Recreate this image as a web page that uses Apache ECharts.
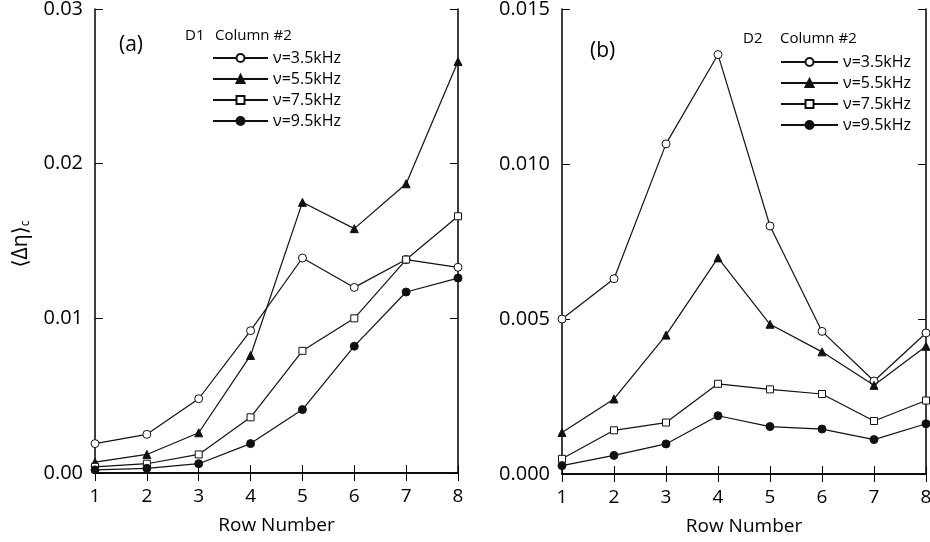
<!DOCTYPE html>
<html>
<head>
<meta charset="utf-8">
<script src="https://cdn.jsdelivr.net/npm/echarts@6/dist/echarts.min.js"></script>
<style>
  html, body { margin: 0; padding: 0; background: #fff; }
  #chart { width: 930px; height: 542px; }
</style>
</head>
<body>
<div id="chart"></div>
<script>
// Row numbers along the column
const rows = [1, 2, 3, 4, 5, 6, 7, 8];

// Series names (frequency)
const names = ['ν=3.5kHz', 'ν=5.5kHz', 'ν=7.5kHz', 'ν=9.5kHz'];

// Panel (a): D1, Column #2
const a35 = [0.0019, 0.0025, 0.0048, 0.0092, 0.0139, 0.0120, 0.0138, 0.0133];
const a55 = [0.0007, 0.0012, 0.0026, 0.0076, 0.0175, 0.0158, 0.0187, 0.0266];
const a75 = [0.0004, 0.0006, 0.0012, 0.0036, 0.0079, 0.0100, 0.0138, 0.0166];
const a95 = [0.0002, 0.0003, 0.0006, 0.0019, 0.0041, 0.0082, 0.0117, 0.0126];

// Panel (b): D2, Column #2
const b35 = [0.0050, 0.0063, 0.01065, 0.01353, 0.0080, 0.0046, 0.0030, 0.00455];
const b55 = [0.00134, 0.00242, 0.00448, 0.00697, 0.00483, 0.00394, 0.00286, 0.00412];
const b75 = [0.00049, 0.00141, 0.00166, 0.00291, 0.00273, 0.00258, 0.00171, 0.00237];
const b95 = [0.00027, 0.0006, 0.00097, 0.00188, 0.00153, 0.00145, 0.00111, 0.00162];

const FONT = '"Open Sans", "DejaVu Sans", sans-serif';
const INK = '#111';

// marker styles: open circle, filled triangle, open square, filled circle
const markers = [
  { symbol: 'circle',   size: 8, fill: '#fff' },
  { symbol: 'triangle', size: 8, fill: INK },
  { symbol: 'rect',     size: 7, fill: '#fff' },
  { symbol: 'circle',   size: 8, fill: INK }
];

// ticks drawn toward the plot interior
const innerTick = { show: true, inside: false, length: -8, lineStyle: { color: '#000', width: 1 } };

function pairs(vals) { return rows.map((r, i) => [r, vals[i]]); }

function makeSeries(valsList, gridIdx) {
  return valsList.map((vals, k) => ({
    name: names[k],
    type: 'line',
    xAxisIndex: gridIdx * 2,
    yAxisIndex: gridIdx * 2,
    data: pairs(vals),
    symbol: markers[k].symbol,
    symbolSize: markers[k].size,
    showAllSymbol: true,
    clip: false,
    lineStyle: { color: INK, width: 1.2 },
    itemStyle: { color: markers[k].fill, borderColor: INK, borderWidth: 1 },
    emphasis: { disabled: true },
    z: 3 + k
  }));
}

function xAxes(gridIdx) {
  return [
    {
      type: 'value', gridIndex: gridIdx, position: 'bottom',
      min: 1, max: 8, interval: 1,
      name: 'Row Number', nameLocation: 'middle', nameGap: 43,
      nameTextStyle: { fontFamily: FONT, fontSize: 19, color: '#000' },
      axisLine: { lineStyle: { color: '#000', width: 1.5 } },
      axisTick: innerTick,
      axisLabel: { fontFamily: FONT, fontSize: 19, color: '#000', margin: 14 },
      splitLine: { show: false }
    },
    {
      type: 'value', gridIndex: gridIdx, position: 'top',
      min: 1, max: 8, interval: 1,
      axisLine: { lineStyle: { color: '#000', width: 1.5 } },
      axisTick: innerTick,
      axisLabel: { show: false },
      splitLine: { show: false }
    }
  ];
}

function yAxes(gridIdx, max, interval, digits) {
  return [
    {
      type: 'value', gridIndex: gridIdx, position: 'left',
      min: 0, max: max, interval: interval,
      axisLine: { show: true, lineStyle: { color: '#000', width: 1.5 } },
      axisTick: innerTick,
      axisLabel: {
        fontFamily: FONT, fontSize: 20, color: '#000', margin: 12,
        formatter: v => v.toFixed(digits)
      },
      splitLine: { show: false }
    },
    {
      type: 'value', gridIndex: gridIdx, position: 'right',
      min: 0, max: max, interval: interval,
      axisLine: { show: true, lineStyle: { color: '#000', width: 1.5 } },
      axisTick: innerTick,
      axisLabel: { show: false },
      splitLine: { show: false }
    }
  ];
}

function legendAt(left, top, width, gap) {
  return {
    data: names,
    orient: 'vertical',
    left: left, top: top,
    padding: 0,
    itemWidth: width, itemHeight: 10, itemGap: gap,
    selectedMode: false,
    textStyle: { fontFamily: FONT, fontSize: 16, color: '#000', lineHeight: 16 }
  };
}

function label(text, x, y, size) {
  return {
    type: 'text', left: x, top: y,
    style: { text: text, font: size + 'px ' + FONT, fill: '#000' }
  };
}

const option = {
  backgroundColor: '#fff',
  animation: false,
  grid: [
    { left: 95, right: 472, top: 9, bottom: 69, outerBoundsMode: 'none' },
    { left: 562, right: 4, top: 9, bottom: 68, outerBoundsMode: 'none' }
  ],
  xAxis: [...xAxes(0), ...xAxes(1)],
  yAxis: [...yAxes(0, 0.03, 0.01, 2), ...yAxes(1, 0.015, 0.005, 3)],
  legend: [legendAt(212, 50, 55, 5), legendAt(780, 54, 57, 5)],
  graphic: [
    // y-axis quantity of panel (a), read bottom to top
    {
      type: 'text', x: 20, y: 244, rotation: Math.PI / 2,
      style: {
        text: '{m|⟨Δη⟩}{s|c}',
        align: 'center', verticalAlign: 'middle',
        rich: {
          m: { fontFamily: FONT, fontSize: 21, fill: '#000', verticalAlign: 'bottom', lineHeight: 24 },
          s: { fontFamily: FONT, fontSize: 12, fill: '#000', verticalAlign: 'bottom', lineHeight: 18 }
        }
      }
    },
    label('(a)', 119, 35, 21),
    label('D1', 185, 28, 15),
    label('Column #2', 215, 28, 15),
    label('(b)', 590, 41, 21),
    label('D2', 743, 31, 15),
    label('Column #2', 780, 31, 15)
  ],
  series: [
    ...makeSeries([a35, a55, a75, a95], 0),
    ...makeSeries([b35, b55, b75, b95], 1)
  ]
};

const chart = echarts.init(document.getElementById('chart'), null, { renderer: 'canvas' });
chart.setOption(option);
</script>
</body>
</html>
